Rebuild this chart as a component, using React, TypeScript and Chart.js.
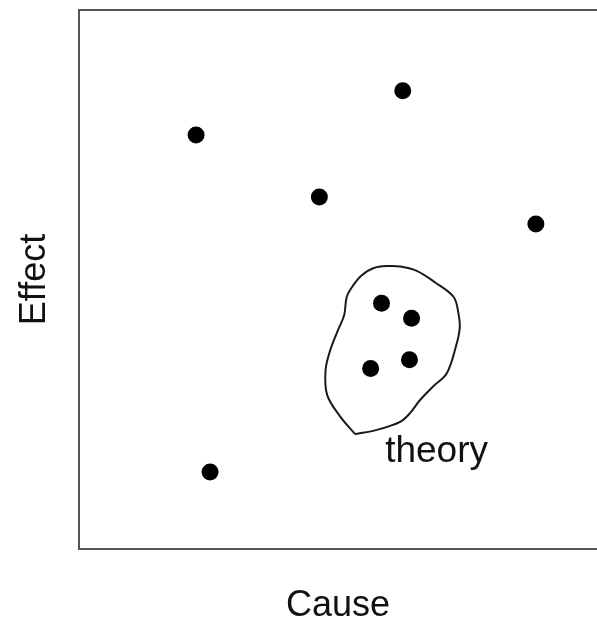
import React, { useEffect, useRef } from "react";
import { Chart, registerables } from "chart.js";

Chart.register(...registerables);

// Observations (Cause, Effect) in arbitrary 0–100 units
const causeValues = [22.6, 62.5, 46.4, 88.2, 58.4, 64.2, 56.3, 63.8, 25.3];
const effectValues = [76.8, 85.0, 65.3, 60.3, 45.6, 42.8, 33.5, 35.1, 14.3];

// Hand-drawn "theory" outline (closed loop)
const theoryCause = [
  53.3, 50.4, 47.9, 47.6, 48.5, 50.0, 51.2, 51.7, 53.0, 54.6, 56.8, 59.7, 62.0,
  65.2, 68.7, 72.3, 73.2, 73.5, 72.8, 71.0, 68.3, 65.8, 63.9, 62.0, 57.5, 53.3,
];
const theoryEffect = [
  21.3, 24.6, 28.6, 33.2, 36.9, 40.6, 43.4, 46.8, 49.0, 50.8, 52.1, 52.5, 52.4,
  51.6, 49.5, 46.8, 44.0, 41.0, 37.7, 32.6, 30.1, 27.6, 25.2, 23.6, 22.1, 21.3,
];

const theoryLabel = "theory";
const theoryLabelCause = 59.1;
const theoryLabelEffect = 16.1;

const xTitle = "Cause";
const yTitle = "Effect";

const FONT = '"Liberation Sans", Arial, Helvetica, sans-serif';
const AXIS_COLOR = "#555";
const TEXT_COLOR = "#111";

const labelPlugin = {
  id: "theoryLabel",
  afterDatasetsDraw(chart: any) {
    const { ctx, scales } = chart;
    const px = scales.x.getPixelForValue(theoryLabelCause);
    const py = scales.y.getPixelForValue(theoryLabelEffect);
    ctx.save();
    ctx.font = `37px ${FONT}`;
    ctx.fillStyle = TEXT_COLOR;
    ctx.textAlign = "left";
    ctx.textBaseline = "alphabetic";
    ctx.fillText(theoryLabel, px, py);
    ctx.restore();
  },
};

export default function App() {
  const canvasRef = useRef<HTMLCanvasElement | null>(null);

  useEffect(() => {
    if (!canvasRef.current) return;
    const points = causeValues.map((c, i) => ({ x: c, y: effectValues[i] }));
    const outline = theoryCause.map((c, i) => ({ x: c, y: theoryEffect[i] }));

    const hiddenAxisBase = {
      type: "linear" as const,
      min: 0,
      max: 100,
      ticks: { display: false },
      grid: { display: false, drawTicks: false },
      border: { display: true, color: AXIS_COLOR, width: 2 },
    };

    const chart = new Chart(canvasRef.current, {
      type: "scatter",
      data: {
        datasets: [
          {
            label: "theory",
            data: outline,
            showLine: true,
            borderColor: "#1a1a1a",
            borderWidth: 2,
            pointRadius: 0,
            tension: 0.35,
            fill: false,
          },
          {
            label: "observations",
            data: points,
            backgroundColor: "#000",
            borderWidth: 0,
            pointRadius: 8.5,
            showLine: false,
          },
        ],
      },
      options: {
        animation: false,
        responsive: true,
        maintainAspectRatio: false,
        events: [],
        layout: {
          autoPadding: false,
          padding: { top: 10, left: 0, right: 0, bottom: 0 },
        },
        plugins: {
          legend: { display: false },
          tooltip: { enabled: false },
          title: { display: false },
        },
        scales: {
          x: {
            ...hiddenAxisBase,
            position: "bottom",
            title: {
              display: true,
              text: xTitle,
              color: TEXT_COLOR,
              font: { family: FONT, size: 36, lineHeight: 1 },
              padding: { top: 39.5, bottom: 0.5 },
            },
          },
          x2: {
            ...hiddenAxisBase,
            axis: "x",
            position: "top",
          },
          y: {
            ...hiddenAxisBase,
            position: "left",
            title: {
              display: true,
              text: yTitle,
              color: TEXT_COLOR,
              font: { family: FONT, size: 36, lineHeight: 1 },
              padding: { top: 17, bottom: 26 },
            },
          },
        },
      } as any,
      plugins: [labelPlugin],
    });

    return () => chart.destroy();
  }, []);

  return (
    <div
      style={{
        position: "absolute",
        left: 0,
        top: 0,
        width: 597,
        height: 625,
        background: "#fff",
      }}
    >
      <canvas ref={canvasRef} />
    </div>
  );
}
